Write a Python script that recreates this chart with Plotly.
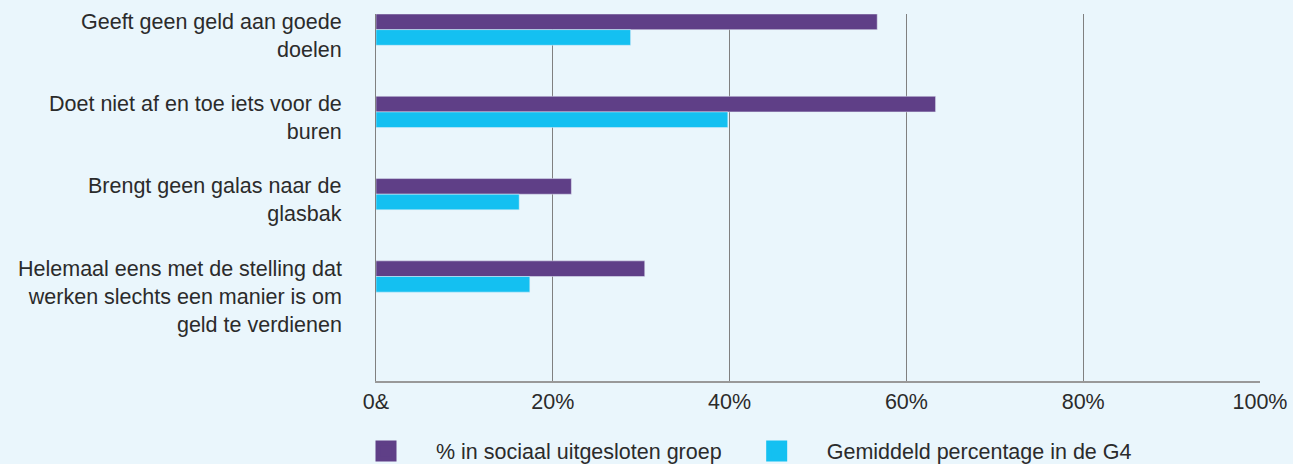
import plotly.graph_objects as go

categories = [
    "Geeft geen geld aan goede<br>doelen",
    "Doet niet af en toe iets voor de<br>buren",
    "Brengt geen galas naar de<br>glasbak",
    "Helemaal eens met de stelling dat<br>werken slechts een manier is om<br>geld te verdienen",
]
cat_keys = ["c1", "c2", "c3", "c4"]
series_names = ["% in sociaal uitgesloten groep", "Gemiddeld percentage in de G4"]
excluded = [56.7, 63.3, 22.1, 30.4]
g4_avg = [28.8, 39.8, 16.2, 17.4]
tick_vals = [0, 20, 40, 60, 80, 100]
tick_text = ["0&", "20%", "40%", "60%", "80%", "100%"]

purple = "#5f3f87"
cyan = "#14c0f1"
bg = "#eaf6fc"
txt = "#2b2b2b"
FONT = "Liberation Sans, Arial, sans-serif"
FS = 21.5

fig = go.Figure()
fig.add_trace(go.Bar(y=cat_keys, x=excluded, orientation="h", marker_color=purple,
                     name=series_names[0], showlegend=False))
fig.add_trace(go.Bar(y=cat_keys, x=g4_avg, orientation="h", marker_color=cyan,
                     name=series_names[1], showlegend=False))
# legend entries with large square markers
for nm, col in zip(series_names, [purple, cyan]):
    fig.add_trace(go.Scatter(x=[None], y=[None], mode="markers", name=nm,
                             marker=dict(symbol="square", size=16, color=col,
                                         line=dict(color=col, width=5)),
                             showlegend=True))

for key, lab in zip(cat_keys, categories):
    fig.add_annotation(x=0, xref="paper", xanchor="right", xshift=-32,
                       y=key, yref="y", yanchor="top", yshift=22,
                       text=lab, showarrow=False, align="right",
                       font=dict(size=FS, color=txt, family=FONT))

fig.update_layout(
    width=1293, height=464,
    margin=dict(l=376, r=33, t=14, b=83),
    paper_bgcolor=bg, plot_bgcolor=bg,
    barmode="group", bargap=0.62, bargroupgap=0,
    font=dict(family=FONT, size=FS, color=txt),
    showlegend=True,
    legend=dict(orientation="h", x=336 / 1293, xref="container", xanchor="left",
                y=0.028, yref="container", yanchor="middle",
                font=dict(size=FS, color=txt),
                itemwidth=90,
                bgcolor="rgba(0,0,0,0)", tracegroupgap=0),
    xaxis=dict(range=[0, 100], tickvals=tick_vals, ticktext=tick_text,
               showgrid=True, gridcolor="#808080", gridwidth=1,
               showline=True, linecolor="#999999", linewidth=2, automargin=False,
               zeroline=False, ticks="",
               tickfont=dict(size=FS, color=txt)),
    yaxis=dict(range=[4.27, -0.19], showticklabels=False, showgrid=False,
               showline=True, linecolor="#808080", linewidth=1, zeroline=False,
               ticks="", type="category", automargin=False),
)

fig.write_html("out.html", config={"displayModeBar": False},
               post_script="document.body.style.margin='0';")
